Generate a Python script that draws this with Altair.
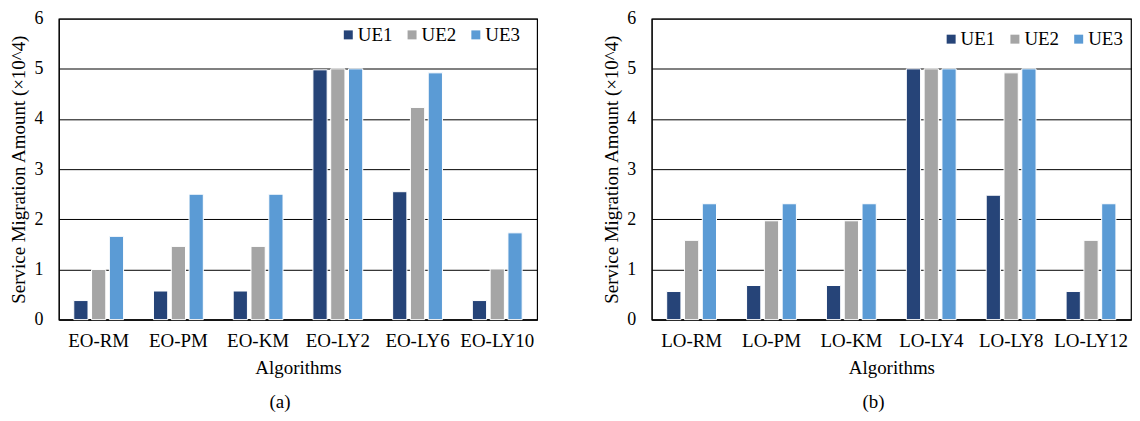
import altair as alt
import pandas as pd

ues = ["UE1", "UE2", "UE3"]
colors = ["#264478", "#A5A5A5", "#5B9BD5"]
y_ticks = [0, 1, 2, 3, 4, 5, 6]

cats_a = ["EO-RM", "EO-PM", "EO-KM", "EO-LY2", "EO-LY6", "EO-LY10"]
ue1_a = [0.38, 0.57, 0.57, 4.98, 2.55, 0.38]
ue2_a = [1.00, 1.46, 1.46, 5.00, 4.23, 1.01]
ue3_a = [1.66, 2.50, 2.50, 5.00, 4.92, 1.73]

cats_b = ["LO-RM", "LO-PM", "LO-KM", "LO-LY4", "LO-LY8", "LO-LY12"]
ue1_b = [0.56, 0.68, 0.68, 5.00, 2.48, 0.56]
ue2_b = [1.58, 1.97, 1.97, 5.00, 4.92, 1.58]
ue3_b = [2.31, 2.31, 2.31, 5.00, 5.00, 2.31]

FONT = "Liberation Serif"


def to_long(cats, s1, s2, s3):
    rows = []
    for ue, series in zip(ues, [s1, s2, s3]):
        for c, v in zip(cats, series):
            rows.append({"alg": c, "ue": ue, "value": v})
    return pd.DataFrame(rows)


def panel(df, cats, caption, lx, ly, width):
    return alt.Chart(df).mark_bar(stroke="white", strokeWidth=1).encode(
        x=alt.X("alg:N", sort=cats, title="Algorithms",
                scale=alt.Scale(paddingInner=0.375, paddingOuter=0.1875),
                axis=alt.Axis(labelAngle=0, ticks=False, labelPadding=12, titlePadding=8,
                              labelFont=FONT, titleFont=FONT,
                              labelFontSize=19, titleFontSize=19, titleFontWeight="normal",
                              grid=False, domainColor="black", labelColor="black",
                              titleColor="black")),
        xOffset=alt.XOffset("ue:N", sort=ues, scale=alt.Scale(paddingInner=0.2)),
        y=alt.Y("value:Q", title="Service Migration Amount (×10^4)",
                scale=alt.Scale(domain=[0, 6], nice=False),
                axis=alt.Axis(values=y_ticks, ticks=False, labelPadding=16, titlePadding=5,
                              labelFont=FONT, titleFont=FONT, labelFlush=False,
                              labelFontSize=18, titleFontSize=19, titleFontWeight="normal",
                              gridColor="black", gridWidth=1, gridOpacity=1,
                              domainColor="black", labelColor="black", titleColor="black")),
        color=alt.Color("ue:N", sort=ues, scale=alt.Scale(domain=ues, range=colors),
                        legend=alt.Legend(title=None, orient="none", legendX=lx, legendY=ly,
                                          direction="horizontal", symbolType="square",
                                          symbolSize=81, symbolStrokeWidth=0,
                                          labelFont=FONT, labelFontSize=19, labelColor="black",
                                          columnPadding=10, labelOffset=0, padding=0)),
    ).properties(
        width=width, height=302,
        title=alt.TitleParams(caption, orient="bottom", fontSize=19, fontWeight="normal",
                              font=FONT, color="black", offset=16, dx=-18),
    )


left = panel(to_long(cats_a, ue1_a, ue2_a, ue3_a), cats_a, "(a)", 281, 6.5, 480)
right = panel(to_long(cats_b, ue1_b, ue2_b, ue3_b), cats_b, "(b)", 291, 10.8, 481)

chart = alt.hconcat(left, right, spacing=64).resolve_scale(color="independent").properties(
    padding={"left": 1, "top": 0, "right": 0, "bottom": 0}
).configure(font=FONT).configure_view(stroke="black", strokeWidth=1.2)

chart.save("out.html", embed_options={"renderer": "svg", "actions": False})
